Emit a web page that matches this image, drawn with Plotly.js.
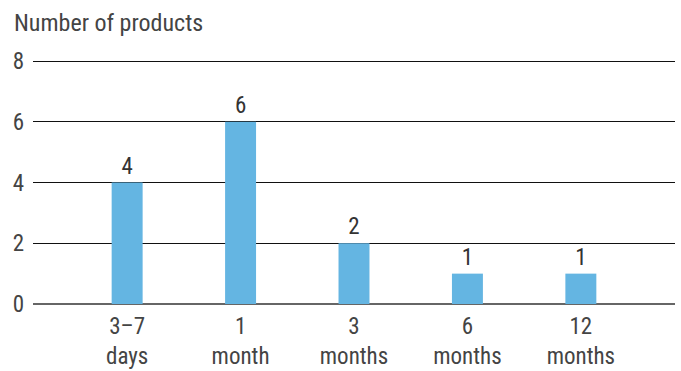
<!DOCTYPE html>
<html>
<head>
<meta charset="utf-8">
<script src="https://cdn.plot.ly/plotly-3.0.1.min.js"></script>
<style>html,body{margin:0;padding:0;background:#fff;}#chart{width:681px;height:371px;}</style>
</head>
<body>
<div id="chart"></div>
<script>
const categories = ["3–7<br>days", "1<br>month", "3<br>months", "6<br>months", "12<br>months"];
const values = [4, 6, 2, 1, 1];
const yTicks = [0, 2, 4, 6, 8];

const FONT = "Roboto Condensed, Liberation Sans, sans-serif";
const trace = {
  type: "bar",
  x: categories,
  y: values,
  text: values.map(String),
  textposition: "outside",
  cliponaxis: false,
  textfont: {family: FONT, size: 23, color: "#333"},
  marker: {color: "#64b5e2"},
  hoverinfo: "none"
};
const layout = {
  width: 681, height: 371,
  margin: {l: 33, r: 6, t: 58, b: 67},
  paper_bgcolor: "#fff", plot_bgcolor: "#fff",
  bargap: 0.727,
  showlegend: false,
  font: {family: FONT, size: 23, color: "#444"},
  title: {
    text: "Number of products",
    xref: "container", yref: "container",
    x: 14/681, xanchor: "left",
    y: 1 - 23/371, yanchor: "middle",
    font: {family: FONT, size: 24, color: "#444"}
  },
  xaxis: {
    type: "category",
    range: [-0.83, 4.83],
    showgrid: false, zeroline: false, showline: false,
    ticks: "", ticklabelstandoff: 6,
    tickfont: {family: FONT, size: 23, color: "#444"}
  },
  yaxis: {
    range: [0, 8.1],
    tickvals: yTicks,
    ticktext: yTicks.map(String),
    showgrid: true, gridcolor: "#111", gridwidth: 1,
    zeroline: true, zerolinecolor: "#666", zerolinewidth: 2,
    showline: false, ticks: "",
    ticklabelstandoff: 8,
    tickfont: {family: FONT, size: 23, color: "#444"}
  }
};
Plotly.newPlot("chart", [trace], layout, {displayModeBar: false, staticPlot: true});
</script>
</body>
</html>
